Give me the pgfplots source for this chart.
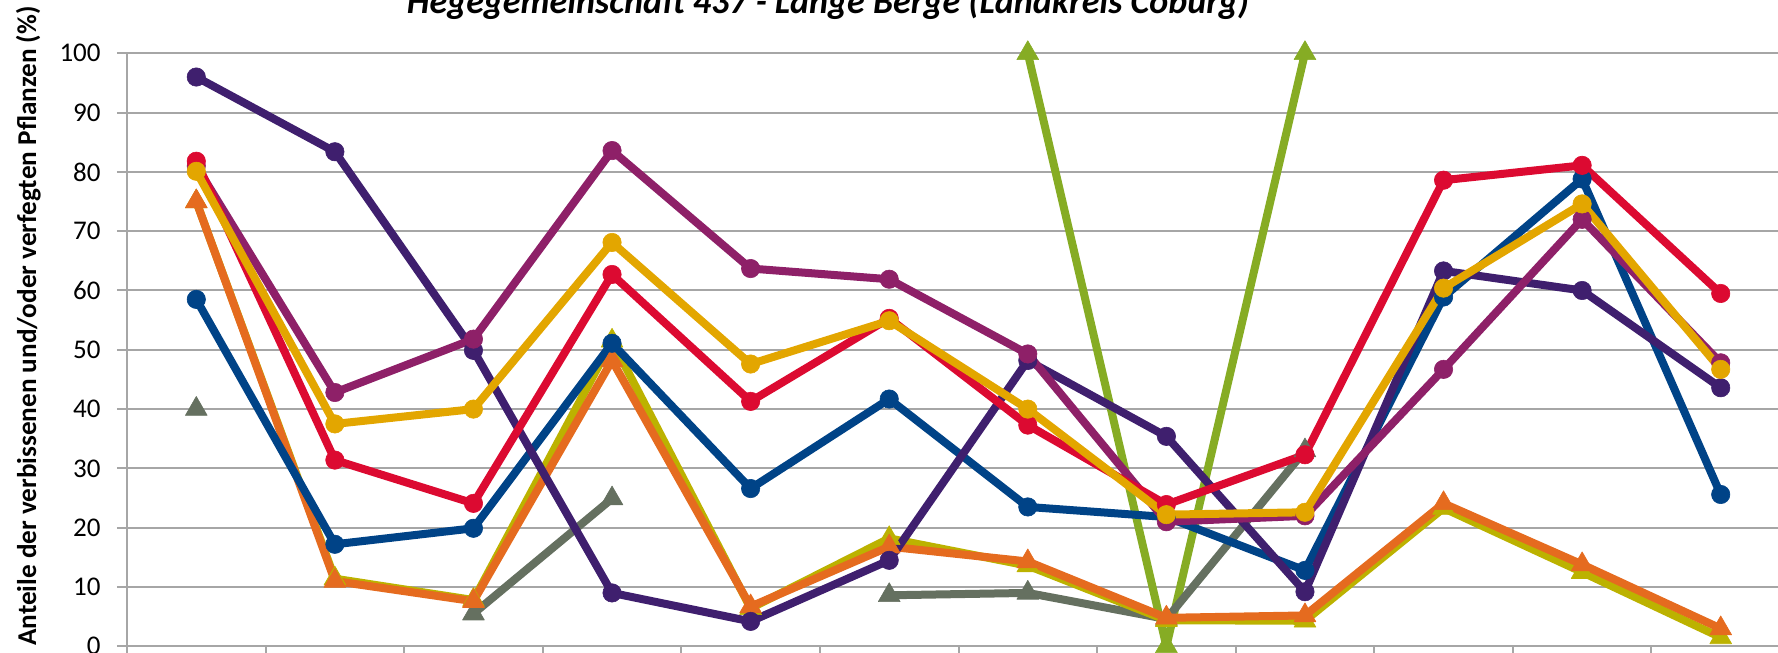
\documentclass[border=0pt]{standalone}
\usepackage{pgfplots}
\pgfplotsset{compat=1.18}
\usepackage{pgfplotstable}
\usepackage{fontspec}
\setmainfont{Carlito}
\definecolor{cdp}{HTML}{3F1F6E}
\definecolor{cmg}{HTML}{8E2068}
\definecolor{crd}{HTML}{DC0A31}
\definecolor{cye}{HTML}{E3A600}
\definecolor{cbl}{HTML}{004387}
\definecolor{cor}{HTML}{E56B1F}
\definecolor{col}{HTML}{BCB200}
\definecolor{cgr}{HTML}{657060}
\definecolor{cgn}{HTML}{86AC24}
\definecolor{gridgray}{HTML}{A6A6A6}
\pgfplotstableread{
x dp mg rd ye bl or ol gr gn
1 96 81 81.8 80.1 58.5 75 75 40 nan
2 83.4 42.8 31.4 37.5 17.2 11 11.4 nan nan
3 49.9 51.8 24.1 40 19.9 7.6 7.8 5.5 nan
4 9 83.6 62.7 68.1 51.1 48.2 51.5 24.9 nan
5 4.2 63.7 41.3 47.6 26.6 6.7 6.4 nan nan
6 14.5 61.9 55.3 54.9 41.7 16.8 18.2 8.6 nan
7 48.2 49.3 37.3 40 23.5 14.3 13.6 9 100
8 35.4 21 23.9 22.2 21.8 4.8 4.4 4.6 0
9 9.2 22 32.3 22.6 12.8 5.2 4.3 33 100
10 63.3 46.7 78.6 60.4 58.9 24.1 23.3 nan nan
11 60 72 81.1 74.6 78.8 13.8 12.5 nan nan
12 43.6 47.8 59.5 46.7 25.6 3 1.5 nan nan
}\data
\begin{document}
\begin{tikzpicture}
\useasboundingbox (0,0) rectangle (889pt,326.5pt);
\clip (0,0) rectangle (889pt,326.5pt);
\begin{axis}[
  at={(63.5pt,3.35pt)}, anchor=south west,
  scale only axis, width=831.5pt, height=296.5pt,
  xmin=0.5, xmax=12.5, ymin=0, ymax=100,
  ytick={0,10,...,100},
  xtick={0.5,1.5,...,12.5}, xticklabels={},
  axis lines=left, axis line style={-, gridgray, line width=1pt},
  ymajorgrids, grid style={gridgray, line width=1pt},
  tick align=outside, major tick length=5pt,
  tick style={gridgray, line width=1pt},
  /pgf/number format/assume math mode=true,
  yticklabel style={font=\fontsize{13.5}{13.5}\selectfont, black, inner sep=0pt, xshift=-8pt},
  unbounded coords=jump,
  every axis plot/.append style={line width=4pt, line join=round},
  clip=false,
]
\addplot[cgn, mark=triangle*, mark size=6.3pt, mark options={solid, line width=0.3pt}] table[x=x, y=gn] {\data};
\addplot[cgr, mark=triangle*, mark size=6.3pt, mark options={solid, line width=0.3pt}] table[x=x, y=gr] {\data};
\addplot[col, mark=triangle*, mark size=6.3pt, mark options={solid, line width=0.3pt}] table[x=x, y=ol] {\data};
\addplot[cor, mark=triangle*, mark size=6.3pt, mark options={solid, line width=0.3pt}] table[x=x, y=or] {\data};
\addplot[cbl, mark=*, mark size=4.6pt, mark options={solid, line width=0.3pt}] table[x=x, y=bl] {\data};
\addplot[cdp, mark=*, mark size=4.6pt, mark options={solid, line width=0.3pt}] table[x=x, y=dp] {\data};
\addplot[cmg, mark=*, mark size=4.6pt, mark options={solid, line width=0.3pt}] table[x=x, y=mg] {\data};
\addplot[crd, mark=*, mark size=4.6pt, mark options={solid, line width=0.3pt}] table[x=x, y=rd] {\data};
\addplot[cye, mark=*, mark size=4.6pt, mark options={solid, line width=0.3pt}] table[x=x, y=ye] {\data};
\end{axis}
\node[anchor=base, font=\fontsize{18}{18}\selectfont\bfseries\itshape] at (414pt,319.5pt) {Hegegemeinschaft 437 - Lange Berge (Landkreis Coburg)};
\node[rotate=90, anchor=base, font=\fontsize{13.6}{13.6}\selectfont\bfseries] at (18pt,163.5pt) {Anteile der verbissenen und/oder verfegten Pflanzen (\%)};
\end{tikzpicture}
\end{document}
